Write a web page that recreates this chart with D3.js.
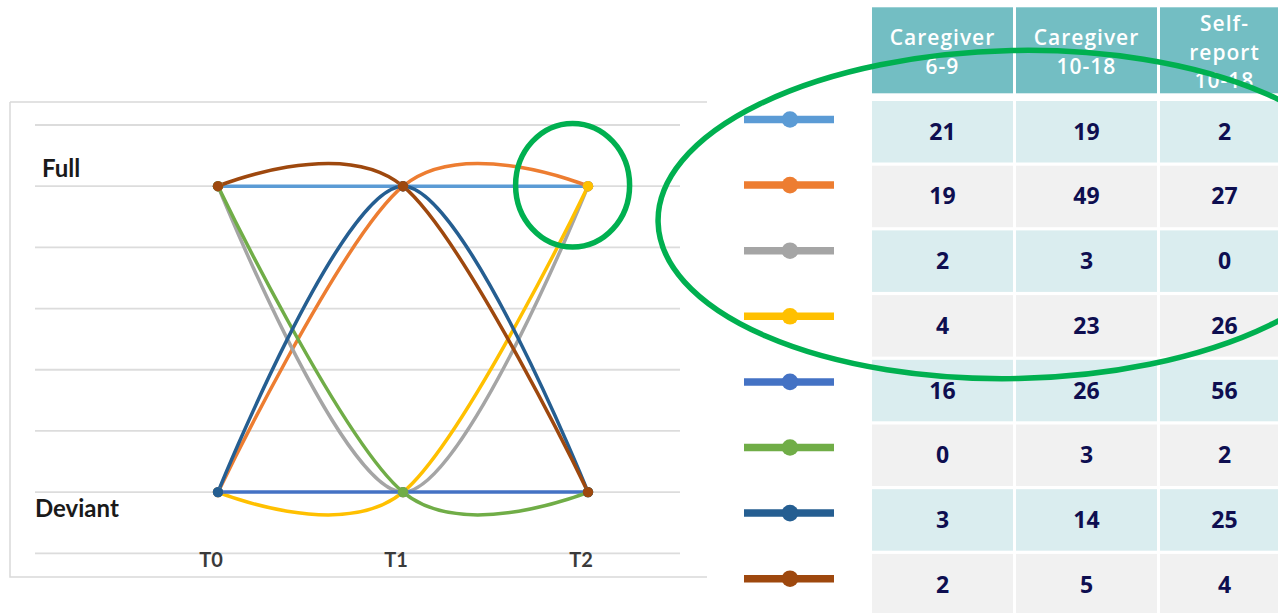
<!DOCTYPE html>
<html><head><meta charset="utf-8">
<script src="https://cdn.jsdelivr.net/npm/d3@7"></script>
<style>html,body{margin:0;padding:0;background:#fff;} svg{display:block}</style>
</head><body>
<svg id="c" width="1278" height="613"></svg>
<script>
// ---- data ----
const timePoints = ["T0", "T1", "T2"];
const stateNames = ["Full", "Deviant"];
const stateLevel = { Deviant: 0, Full: 5 };
const gridLevels = [-1, 0, 1, 2, 3, 4, 5, 6];
const seriesColors = ["#5B9BD5", "#ED7D31", "#A5A5A5", "#FFC000", "#4472C4", "#70AD47", "#255E91", "#9E480E"];
const seriesPaths = [
  ["Full", "Full", "Full"],
  ["Deviant", "Full", "Full"],
  ["Full", "Deviant", "Full"],
  ["Deviant", "Deviant", "Full"],
  ["Deviant", "Deviant", "Deviant"],
  ["Full", "Deviant", "Deviant"],
  ["Deviant", "Full", "Deviant"],
  ["Full", "Full", "Deviant"]
];
const tableHeaders = [["Caregiver", "6-9"], ["Caregiver", "10-18"], ["Self-", "report", "10-18"]];
const caregiver6to9 = [21, 19, 2, 4, 16, 0, 3, 2];
const caregiver10to18 = [19, 49, 3, 23, 26, 3, 14, 5];
const selfReport10to18 = [2, 27, 0, 26, 56, 2, 25, 4];
const tableColumns = [caregiver6to9, caregiver10to18, selfReport10to18];

// ---- layout ----
const svg = d3.select("#c");
const x = d3.scalePoint().domain(timePoints).range([218, 588]);
const y = d3.scaleLinear().domain([-1, 6]).range([553.3, 125]);

// chart frame (no right edge visible in reference)
svg.append("path")
  .attr("d", "M10,102H707M10,102V577H707")
  .attr("fill", "none").attr("stroke", "#D9D9D9").attr("stroke-width", 1.5);

// gridlines
svg.append("g").selectAll("line").data(gridLevels).join("line")
  .attr("x1", 35).attr("x2", 680)
  .attr("y1", d => y(d)).attr("y2", d => y(d))
  .attr("stroke", "#DCDCDC").attr("stroke-width", 1.8);

// state labels
const stateOffset = { Full: -9, Deviant: 25 };
const stateX = { Full: 42, Deviant: 35 };
svg.append("g").selectAll("text").data(stateNames).join("text")
  .attr("x", d => stateX[d]).attr("y", d => y(stateLevel[d]) + stateOffset[d])
  .attr("font-family", "Lato, sans-serif").attr("font-weight", 700)
  .attr("font-size", 24).attr("fill", "#1a1a1a")
  .text(d => d);

// x tick labels
svg.append("g").selectAll("text").data(timePoints).join("text")
  .attr("x", d => x(d) - 7).attr("y", 567.3)
  .attr("text-anchor", "middle")
  .attr("font-family", "Lato, sans-serif").attr("font-weight", 700)
  .attr("font-size", 20).attr("fill", "#3a3a3a")
  .text(d => d);

// lines
const line = d3.line()
  .x((d, i) => x(timePoints[i]))
  .y(d => y(stateLevel[d]))
  .curve(d3.curveCardinal.tension(0));

svg.append("g").selectAll("path").data(seriesPaths).join("path")
  .attr("d", d => line(d))
  .attr("fill", "none")
  .attr("stroke", (d, i) => seriesColors[i])
  .attr("stroke-width", 3.5)
  .attr("stroke-linecap", "round");

// markers
const markerData = [];
seriesPaths.forEach((p, s) => p.forEach((st, i) => markerData.push({ s, t: timePoints[i], st })));
svg.append("g").selectAll("circle").data(markerData).join("circle")
  .attr("cx", d => x(d.t)).attr("cy", d => y(stateLevel[d.st]))
  .attr("r", 5.2).attr("fill", d => seriesColors[d.s]);

// ---- table ----
const colLeft = [872, 1016, 1160];
const colWidth = [141, 141, 129];
const rowY = d3.scaleBand().domain(d3.range(8)).range([101, 101 + 64.7 * 8 - 3.2]).paddingInner(3.2 / 64.7);
const rowFill = ["#DAEDEF", "#F1F1F1"];

// header cells
const hdr = svg.append("g");
tableHeaders.forEach((lines, c) => {
  hdr.append("rect").attr("x", colLeft[c]).attr("y", 7.3).attr("width", colWidth[c]).attr("height", 86)
    .attr("fill", "#73BEC3");
  const n = lines.length;
  hdr.selectAll(null).data(lines).join("text")
    .attr("x", colLeft[c] + colWidth[c] / 2)
    .attr("y", (d, i) => 59.6 + (i - (n - 1) / 2) * 28.6)
    .attr("text-anchor", "middle")
    .attr("font-family", "'Open Sans', sans-serif").attr("font-weight", 600)
    .attr("font-size", 21).attr("letter-spacing", 1)
    .attr("fill", "#ffffff")
    .text(d => d);
});

// body cells
const body = svg.append("g");
tableColumns.forEach((vals, c) => {
  body.selectAll(null).data(vals).join("rect")
    .attr("x", colLeft[c]).attr("y", (d, r) => rowY(r))
    .attr("width", colWidth[c]).attr("height", rowY.bandwidth())
    .attr("fill", (d, r) => rowFill[r % 2]);
  body.selectAll(null).data(vals).join("text")
    .attr("x", colLeft[c] + colWidth[c] / 2)
    .attr("y", (d, r) => rowY(r) + rowY.bandwidth() / 2 + 8)
    .attr("text-anchor", "middle")
    .attr("font-family", "'Open Sans', sans-serif").attr("font-weight", 700)
    .attr("font-size", 23).attr("fill", "#0E0E50")
    .text(d => d);
});

// legend markers
const legendY = d3.scalePoint().domain(d3.range(8)).range([119.5, 578.7]);
const leg = svg.append("g");
leg.selectAll("line").data(seriesColors).join("line")
  .attr("x1", 744).attr("x2", 834)
  .attr("y1", (d, i) => legendY(i)).attr("y2", (d, i) => legendY(i))
  .attr("stroke", d => d).attr("stroke-width", 7.5);
leg.selectAll("circle").data(seriesColors).join("circle")
  .attr("cx", 790).attr("cy", (d, i) => legendY(i))
  .attr("r", 8.3).attr("fill", d => d);

// ---- annotations ----
svg.append("ellipse")
  .attr("cx", 572.6).attr("cy", 185.2).attr("rx", 57).attr("ry", 61.8)
  .attr("fill", "none").attr("stroke", "#00B050").attr("stroke-width", 5.5);
svg.append("ellipse")
  .attr("cx", 1015).attr("cy", 214.5).attr("rx", 357).attr("ry", 164)
  .attr("transform", "rotate(-1.2 1015 214.5)")
  .attr("fill", "none").attr("stroke", "#00B050").attr("stroke-width", 5.5);
</script>
</body></html>
